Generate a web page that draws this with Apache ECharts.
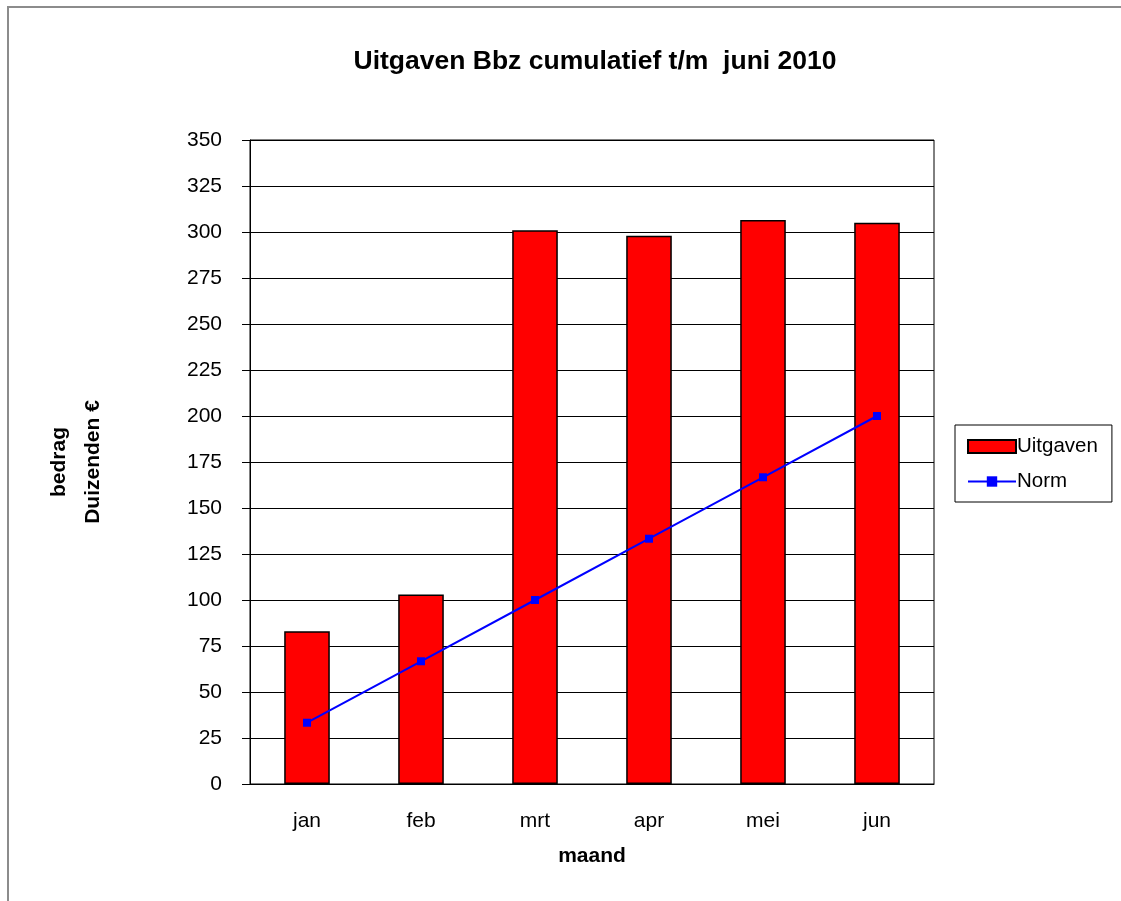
<!DOCTYPE html>
<html>
<head>
<meta charset="utf-8">
<script src="https://cdn.jsdelivr.net/npm/echarts@6/dist/echarts.min.js"></script>
<style>
  html, body { margin: 0; padding: 0; background: #fff; overflow: hidden; }
  .frame {
    position: absolute; left: 7px; top: 6px; width: 1130px; height: 910px;
    border-left: 2px solid #8c8c8c; border-top: 2px solid #8c8c8c;
  }
  #chart { position: absolute; left: 0; top: 0; width: 1121px; height: 901px; }
</style>
</head>
<body>
<div class="frame"></div>
<div id="chart"></div>
<script>
const months = ['jan', 'feb', 'mrt', 'apr', 'mei', 'jun']
const uitgaven = [83, 103, 301, 298, 306.5, 305]
const norm = [33.3, 66.7, 100, 133.3, 166.7, 200]

const axisColor = '#000'
const font = 'Liberation Sans, Arial, sans-serif'

const chart = echarts.init(document.getElementById('chart'))
chart.setOption({
  backgroundColor: 'transparent',
  animation: false,
  textStyle: { fontFamily: font, color: '#000' },
  title: {
    text: 'Uitgaven Bbz cumulatief t/m  juni 2010',
    left: 590, top: 43, textAlign: 'center',
    textStyle: { fontSize: 26.5, fontWeight: 'bold', color: '#000', fontFamily: font },
  },
  legend: {
    orient: 'vertical',
    left: 955, top: 425,
    padding: [11, 14, 10, 12],
    itemGap: 14,
    itemWidth: 48,
    itemHeight: 13,
    borderColor: '#000',
    borderWidth: 1,
    textStyle: { fontSize: 20.5, color: '#000', fontFamily: font, padding: [0, 0, 0, -4] },
    data: [{ name: 'Uitgaven', icon: 'rect' }, 'Norm'],
  },
  grid: { left: 250, right: 187, top: 140, bottom: 117, show: true, borderColor: '#000', borderWidth: 1 },
  xAxis: {
    type: 'category',
    data: months,
    name: 'maand',
    nameLocation: 'middle',
    nameGap: 62,
    nameTextStyle: { fontSize: 21, fontWeight: 'bold', color: '#000' },
    axisLine: { lineStyle: { color: axisColor, width: 1 } },
    axisTick: { length: 7, lineStyle: { color: axisColor } },
    axisLabel: { fontSize: 21, color: '#000', margin: 27 },
  },
  yAxis: {
    type: 'value',
    min: 0, max: 350, interval: 25,
    name: 'bedrag\nDuizenden €',
    nameLocation: 'middle',
    nameGap: 140,
    nameRotate: 90,
    nameTextStyle: { fontSize: 21, fontWeight: 'bold', color: '#000', lineHeight: 34 },
    axisLine: { show: true, lineStyle: { color: axisColor, width: 1 } },
    axisTick: { show: true, length: 8, lineStyle: { color: axisColor } },
    axisLabel: { fontSize: 21, color: '#000', margin: 28 },
    splitLine: { lineStyle: { color: '#000', width: 1 } },
  },
  series: [
    {
      name: 'Uitgaven',
      type: 'bar',
      data: uitgaven,
      barWidth: '40%',
      itemStyle: { color: '#ff0000', borderColor: '#000', borderWidth: 1.5 },
    },
    {
      name: 'Norm',
      type: 'line',
      data: norm,
      symbol: 'rect',
      symbolSize: 8,
      lineStyle: { color: '#0000ff', width: 2 },
      itemStyle: { color: '#0000ff' },
    },
  ],
})
</script>
</body>
</html>
